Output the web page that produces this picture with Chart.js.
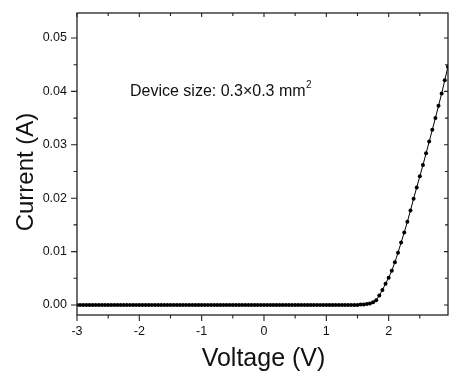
<!DOCTYPE html>
<html>
<head>
<meta charset="utf-8">
<script src="https://cdn.jsdelivr.net/npm/chart.js@4.4.0/dist/chart.umd.min.js"></script>
<style>
	html, body { margin: 0; padding: 0; background: #fff; }
	canvas { display: block; }
</style>
</head>
<body>
<canvas id="iv-chart" width="450" height="375"></canvas>
<script>
// bias voltage (V), 0.05 V steps
var voltage = [
	-3.00,-2.95,-2.90,-2.85,-2.80,-2.75,-2.70,-2.65,-2.60,-2.55,
	-2.50,-2.45,-2.40,-2.35,-2.30,-2.25,-2.20,-2.15,-2.10,-2.05,
	-2.00,-1.95,-1.90,-1.85,-1.80,-1.75,-1.70,-1.65,-1.60,-1.55,
	-1.50,-1.45,-1.40,-1.35,-1.30,-1.25,-1.20,-1.15,-1.10,-1.05,
	-1.00,-0.95,-0.90,-0.85,-0.80,-0.75,-0.70,-0.65,-0.60,-0.55,
	-0.50,-0.45,-0.40,-0.35,-0.30,-0.25,-0.20,-0.15,-0.10,-0.05,
	0.00,0.05,0.10,0.15,0.20,0.25,0.30,0.35,0.40,0.45,
	0.50,0.55,0.60,0.65,0.70,0.75,0.80,0.85,0.90,0.95,
	1.00,1.05,1.10,1.15,1.20,1.25,1.30,1.35,1.40,1.45,
	1.50,1.55,1.60,1.65,1.70,1.75,1.80,1.85,1.90,1.95,
	2.00,2.05,2.10,2.15,2.20,2.25,2.30,2.35,2.40,2.45,
	2.50,2.55,2.60,2.65,2.70,2.75,2.80,2.85,2.90,2.95
];

// measured current (A)
var current = [
	0,0,0,0,0,0,0,0,0,0,
	0,0,0,0,0,0,0,0,0,0,
	0,0,0,0,0,0,0,0,0,0,
	0,0,0,0,0,0,0,0,0,0,
	0,0,0,0,0,0,0,0,0,0,
	0,0,0,0,0,0,0,0,0,0,
	0,0,0,0,0,0,0,0,0,0,
	0,0,0,0,0,0,0,0,0,0,
	0,0,0,0,0,0,0,0,0,0,
	0.0000,0.0001,0.0001,0.0002,0.0003,0.0005,0.0009,0.0018,0.0028,0.0040,
	0.0051,0.0064,0.0080,0.0098,0.0117,0.0136,0.0156,0.0177,0.0199,0.0220,
	0.0241,0.0262,0.0284,0.0306,0.0328,0.0350,0.0373,0.0396,0.0421,0.0446
];

var xMajorTicks = [-3, -2, -1, 0, 1, 2];
var xMinorTicks = [-2.5, -1.5, -0.5, 0.5, 1.5, 2.5];
var yMajorTicks = [0, 0.01, 0.02, 0.03, 0.04, 0.05];
var yMinorTicks = [0.005, 0.015, 0.025, 0.035, 0.045];
var yTickLabels = ['0.00', '0.01', '0.02', '0.03', '0.04', '0.05'];

var points = voltage.map(function (v, i) {
	return {x: v, y: current[i]};
});

// frame, origin-style ticks, axis titles and the note
var frameAxes = {
	id: 'frameAxes',
	afterDraw: function (chart) {
		var ctx = chart.ctx;
		var a = chart.chartArea;
		var xs = chart.scales.x;
		var ys = chart.scales.y;
		var font = '"Liberation Sans", Arial, sans-serif';

		ctx.save();
		ctx.strokeStyle = '#222';
		ctx.fillStyle = '#111';
		ctx.lineWidth = 1.3;
		ctx.strokeRect(a.left, a.top, a.right - a.left, a.bottom - a.top);

		ctx.lineWidth = 1.1;
		ctx.beginPath();
		xMajorTicks.forEach(function (v) {
			var px = xs.getPixelForValue(v);
			ctx.moveTo(px, a.bottom); ctx.lineTo(px, a.bottom + 6);
			ctx.moveTo(px, a.top); ctx.lineTo(px, a.top + 4);
		});
		xMinorTicks.forEach(function (v) {
			var px = xs.getPixelForValue(v);
			ctx.moveTo(px, a.bottom); ctx.lineTo(px, a.bottom + 3.5);
			ctx.moveTo(px, a.top); ctx.lineTo(px, a.top + 3);
		});
		yMajorTicks.forEach(function (v) {
			var py = ys.getPixelForValue(v);
			ctx.moveTo(a.left, py); ctx.lineTo(a.left - 6, py);
			ctx.moveTo(a.right, py); ctx.lineTo(a.right - 4, py);
		});
		yMinorTicks.forEach(function (v) {
			var py = ys.getPixelForValue(v);
			ctx.moveTo(a.left, py); ctx.lineTo(a.left - 3.5, py);
			ctx.moveTo(a.right, py); ctx.lineTo(a.right - 3, py);
		});
		ctx.stroke();

		ctx.font = '12.5px ' + font;
		ctx.textAlign = 'center';
		ctx.textBaseline = 'middle';
		xMajorTicks.forEach(function (v) {
			ctx.fillText(String(v), xs.getPixelForValue(v), a.bottom + 17);
		});
		ctx.textAlign = 'right';
		yMajorTicks.forEach(function (v, i) {
			ctx.fillText(yTickLabels[i], a.left - 10, ys.getPixelForValue(v));
		});

		ctx.font = '25px ' + font;
		ctx.textAlign = 'center';
		ctx.fillText('Voltage (V)', (a.left + a.right) / 2 + 1, 359);

		ctx.save();
		ctx.translate(26, 172);
		ctx.rotate(-Math.PI / 2);
		ctx.font = '24px ' + font;
		ctx.fillText('Current (A)', 0, 0);
		ctx.restore();

		var note = 'Device size: 0.3\u00d70.3 mm';
		var nx = xs.getPixelForValue(-2.15);
		var ny = ys.getPixelForValue(0.04);
		ctx.font = '16px ' + font;
		ctx.textAlign = 'left';
		ctx.fillText(note, nx, ny);
		var w = ctx.measureText(note).width;
		ctx.font = '10px ' + font;
		ctx.fillText('2', nx + w + 0.5, ny - 6);
		ctx.restore();
	}
};

new Chart('iv-chart', {
	type: 'scatter',
	data: {
		datasets: [
			{
				data: points,
				showLine: true,
				borderColor: '#000',
				borderWidth: 1,
				backgroundColor: '#000',
				pointRadius: 2,
				pointBorderWidth: 0,
				pointHoverRadius: 2
			}
		]
	},
	plugins: [frameAxes],
	options: {
		responsive: false,
		animation: false,
		events: [],
		layout: {
			padding: {left: 77, right: 1, top: 13, bottom: 60}
		},
		plugins: {
			legend: {display: false},
			tooltip: {enabled: false}
		},
		scales: {
			x: {
				type: 'linear',
				display: false,
				min: -3,
				max: 2.952
			},
			y: {
				type: 'linear',
				display: false,
				min: -0.00187,
				max: 0.05468
			}
		}
	}
});
</script>
</body>
</html>
